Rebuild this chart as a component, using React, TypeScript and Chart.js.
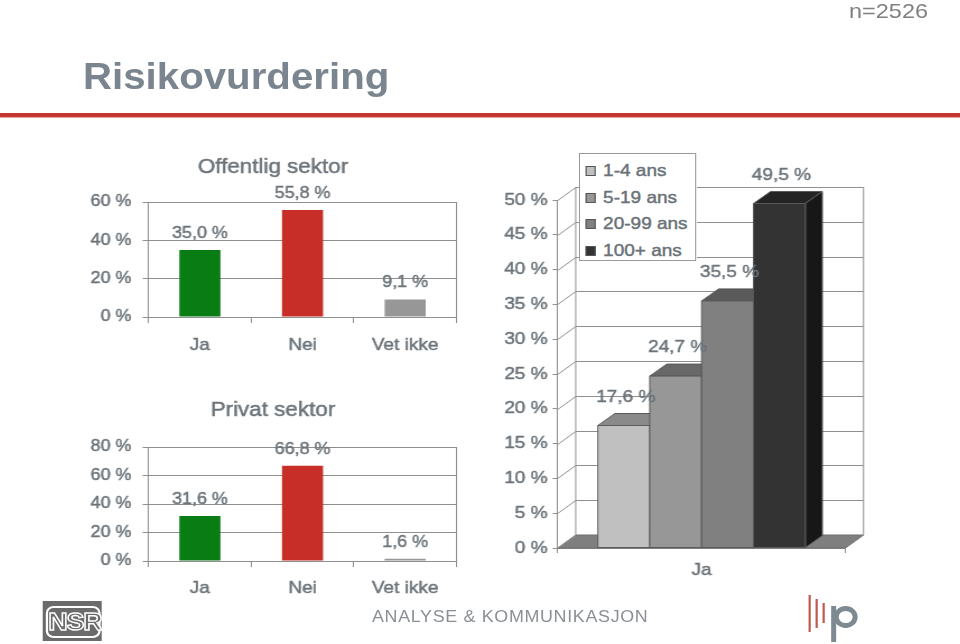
import React, { useEffect, useRef } from "react";
import { Chart, registerables } from "chart.js";

Chart.register(...registerables);

// ---------------- data ----------------
const pageTitle = "Risikovurdering";
const sampleSize = "n=2526";

const answerCategories = ["Ja", "Nei", "Vet ikke"];
const answerColors = ["#0a7c14", "#c72e27", "#979797"];

const offentligTitle = "Offentlig sektor";
const offentligValues = [35.0, 55.8, 9.1];
const offentligTicks = [0, 20, 40, 60];

const privatTitle = "Privat sektor";
const privatValues = [31.6, 66.8, 1.6];
const privatTicks = [0, 20, 40, 60, 80];

const sizeCategories = ["Ja"];
const sizeSeries = ["1-4 ans", "5-19 ans", "20-99 ans", "100+ ans"];
const sizeValues = [17.6, 24.7, 35.5, 49.5];
const sizeTicks = [0, 5, 10, 15, 20, 25, 30, 35, 40, 45, 50];
const sizeFront = ["#c0c0c0", "#979797", "#808080", "#333333"];
const sizeTop = ["#8a8a8a", "#686868", "#5a5a5a", "#242424"];
const sizeSide = ["#9c9c9c", "#6e6e6e", "#5e5e5e", "#171717"];

// ---------------- style helpers ----------------
const S = 960 / 859; // horizontal stretch of the slide
const X = (v: number) => v / S;
const FONT = "'Liberation Sans', Arial, Helvetica, sans-serif";
const TEXT = "#6b7379";
const GRID = "#8f8f8f";
const EDGE = "#5a5a5a";
const STROKE = 0.45;
const fmt = (v: number) => v.toFixed(1).replace(".", ",") + " %";

const drawText = (ctx: any, text: string, x: number, y: number, size: number) => {
  ctx.font = `${size}px ${FONT}`;
  ctx.textAlign = "center";
  ctx.textBaseline = "middle";
  ctx.fillStyle = TEXT;
  ctx.strokeStyle = TEXT;
  ctx.lineWidth = STROKE;
  ctx.lineJoin = "round";
  ctx.strokeText(text, x, y);
  ctx.fillText(text, x, y);
};

type SectorProps = {
  title: string;
  values: number[];
  ticks: number[];
  top: number;
  height: number;
  titlePadTop: number;
  titlePadBottom: number;
  xAxisHeight: number;
  labelPad: number;
};

function SectorChart(p: SectorProps) {
  const ref = useRef<HTMLCanvasElement>(null);
  useEffect(() => {
    const valueLabels = {
      id: "valueLabels",
      afterDatasetsDraw(chart: any) {
        const ctx = chart.ctx;
        const meta = chart.getDatasetMeta(0);
        ctx.save();
        meta.data.forEach((bar: any, i: number) => {
          drawText(ctx, fmt(p.values[i]), bar.x, bar.y - 16.5, 16);
        });
        ctx.restore();
      },
      afterDraw(chart: any) {
        const tb = chart.titleBlock;
        if (!tb) return;
        const ctx = chart.ctx;
        ctx.save();
        ctx.font = `20px ${FONT}`;
        ctx.textAlign = "center";
        ctx.textBaseline = "middle";
        ctx.strokeStyle = TEXT;
        ctx.lineWidth = STROKE;
        ctx.strokeText(p.title, (tb.left + tb.right) / 2, tb.top + p.titlePadTop + 12);
        ctx.restore();
      },
    };
    const chart = new Chart(ref.current as HTMLCanvasElement, {
      type: "bar",
      data: {
        labels: answerCategories,
        datasets: [
          {
            data: p.values,
            backgroundColor: answerColors,
            borderWidth: 0,
            categoryPercentage: 1,
            barPercentage: 0.4,
          },
        ],
      },
      options: {
        animation: false,
        responsive: true,
        maintainAspectRatio: false,
        layout: { padding: { left: 0, right: X(15), top: 0, bottom: 0 } },
        plugins: {
          legend: { display: false },
          tooltip: { enabled: false },
          title: {
            display: true,
            text: p.title,
            color: TEXT,
            font: { family: FONT, size: 20, weight: "normal", lineHeight: 1.2 },
            padding: { top: p.titlePadTop, bottom: p.titlePadBottom },
          },
        },
        scales: {
          x: {
            grid: {
              offset: true,
              color: (c: any) => (c.type === "tick" && c.index > 0 ? "rgba(0,0,0,0)" : GRID),
              tickColor: GRID,
              tickLength: 6,
              lineWidth: 1,
            },
            border: { display: true, color: GRID },
            ticks: {
              color: TEXT,
              font: { family: FONT, size: 17 },
              padding: p.labelPad,
              maxRotation: 0,
              textStrokeColor: TEXT,
              textStrokeWidth: STROKE,
            },
            afterFit: (s: any) => {
              s.height = p.xAxisHeight;
            },
          },
          y: {
            min: 0,
            max: p.ticks[p.ticks.length - 1],
            afterBuildTicks: (s: any) => {
              s.ticks = p.ticks.map((v) => ({ value: v }));
            },
            grid: { color: GRID, tickColor: GRID, tickLength: X(6) },
            border: { display: true, color: GRID },
            ticks: {
              color: TEXT,
              font: { family: FONT, size: 16 },
              padding: X(11),
              textStrokeColor: TEXT,
              textStrokeWidth: STROKE,
              callback: (v: any) => v + " %",
            },
            afterFit: (s: any) => {
              s.width = X(59);
            },
          },
        },
      } as any,
      plugins: [valueLabels],
    });
    return () => chart.destroy();
  }, []);
  return (
    <div style={{ position: "absolute", left: X(89), top: p.top, width: X(381), height: p.height }}>
      <canvas ref={ref} />
    </div>
  );
}

function SizeChart() {
  const ref = useRef<HTMLCanvasElement>(null);
  useEffect(() => {
    const WALL = { dx: X(18), dy: -13 };
    const BAR = { dx: X(17), dy: -12 };
    const poly = (ctx: any, pts: number[][], fill: string, stroke: string) => {
      ctx.beginPath();
      ctx.moveTo(pts[0][0], pts[0][1]);
      for (let k = 1; k < pts.length; k++) ctx.lineTo(pts[k][0], pts[k][1]);
      ctx.closePath();
      ctx.fillStyle = fill;
      ctx.fill();
      ctx.strokeStyle = stroke;
      ctx.lineWidth = 1;
      ctx.stroke();
    };
    const line = (ctx: any, x1: number, y1: number, x2: number, y2: number) => {
      ctx.beginPath();
      ctx.moveTo(x1, y1);
      ctx.lineTo(x2, y2);
      ctx.stroke();
    };
    const box3d = {
      id: "box3d",
      beforeDatasetsDraw(chart: any) {
        const { ctx, chartArea: a } = chart;
        const yScale = chart.scales.y;
        ctx.save();
        poly(
          ctx,
          [
            [a.left, a.bottom],
            [a.right, a.bottom],
            [a.right + WALL.dx, a.bottom + WALL.dy],
            [a.left + WALL.dx, a.bottom + WALL.dy],
          ],
          "#7f7f7f",
          "#6f6f6f"
        );
        ctx.strokeStyle = GRID;
        ctx.lineWidth = 1;
        sizeTicks.forEach((v) => {
          const py = Math.round(yScale.getPixelForValue(v)) + 0.5;
          line(ctx, a.left, py, a.left + WALL.dx, py + WALL.dy);
          if (v > 0) line(ctx, a.left + WALL.dx, py + WALL.dy, a.right + WALL.dx, py + WALL.dy);
        });
        const top = yScale.getPixelForValue(sizeTicks[sizeTicks.length - 1]);
        line(ctx, a.left + WALL.dx, a.bottom + WALL.dy, a.left + WALL.dx, top + WALL.dy);
        line(ctx, a.right + WALL.dx, a.bottom + WALL.dy, a.right + WALL.dx, top + WALL.dy);
        for (let i = 0; i < sizeSeries.length; i++) {
          const bar = chart.getDatasetMeta(i).data[0];
          const { x, y, base, width } = bar.getProps(["x", "y", "base", "width"], true);
          const x0 = x - width / 2;
          const x1 = x + width / 2;
          poly(
            ctx,
            [
              [x0, y],
              [x1, y],
              [x1 + BAR.dx, y + BAR.dy],
              [x0 + BAR.dx, y + BAR.dy],
            ],
            sizeTop[i],
            EDGE
          );
          poly(
            ctx,
            [
              [x1, y],
              [x1 + BAR.dx, y + BAR.dy],
              [x1 + BAR.dx, base + BAR.dy],
              [x1, base],
            ],
            sizeSide[i],
            EDGE
          );
          poly(
            ctx,
            [
              [x0, y],
              [x1, y],
              [x1, base],
              [x0, base],
            ],
            sizeFront[i],
            EDGE
          );
        }
        ctx.restore();
        return false;
      },
      afterDraw(chart: any) {
        const ctx = chart.ctx;
        ctx.save();
        for (let i = 0; i < sizeSeries.length; i++) {
          const bar = chart.getDatasetMeta(i).data[0];
          drawText(ctx, fmt(sizeValues[i]), bar.x + X(2), bar.y - 28.5, 17);
        }
        ctx.restore();
      },
    };
    const chart = new Chart(ref.current as HTMLCanvasElement, {
      type: "bar",
      data: {
        labels: sizeCategories,
        datasets: sizeSeries.map((name, i) => ({
          label: name,
          data: [sizeValues[i]],
          backgroundColor: sizeFront[i],
          categoryPercentage: 0.721,
          barPercentage: 1,
        })),
      },
      options: {
        animation: false,
        responsive: true,
        maintainAspectRatio: false,
        layout: { padding: { left: 0, right: X(45), top: 50, bottom: 0 } },
        plugins: { legend: { display: false }, tooltip: { enabled: false }, title: { display: false } },
        scales: {
          x: {
            grid: { offset: true, drawOnChartArea: false, color: GRID, tickLength: 5 },
            border: { display: true, color: GRID },
            ticks: {
              color: TEXT,
              font: { family: FONT, size: 17 },
              padding: 7,
              textStrokeColor: TEXT,
              textStrokeWidth: STROKE,
            },
            afterFit: (s: any) => {
              s.height = 42;
            },
          },
          y: {
            min: 0,
            max: sizeTicks[sizeTicks.length - 1],
            afterBuildTicks: (s: any) => {
              s.ticks = sizeTicks.map((v) => ({ value: v }));
            },
            grid: { drawOnChartArea: false, color: GRID, tickLength: X(5) },
            border: { display: true, color: GRID },
            ticks: {
              color: TEXT,
              font: { family: FONT, size: 17 },
              padding: X(5),
              textStrokeColor: TEXT,
              textStrokeWidth: STROKE,
              callback: (v: any) => v + " %",
            },
            afterFit: (s: any) => {
              s.width = X(68);
            },
          },
        },
      } as any,
      plugins: [box3d],
    });
    return () => chart.destroy();
  }, []);
  return (
    <div style={{ position: "absolute", left: X(490), top: 150, width: X(400), height: 440 }}>
      <canvas ref={ref} />
    </div>
  );
}

function Legend3D() {
  const centers = [18, 44.5, 71, 98];
  return (
    <div
      style={{
        position: "absolute",
        left: X(579),
        top: 153,
        width: X(117),
        height: 108,
        border: "1px solid #9a9a9a",
        background: "#fff",
        boxSizing: "border-box",
      }}
    >
      {sizeSeries.map((name, i) => (
        <React.Fragment key={name}>
          <div
            style={{
              position: "absolute",
              left: X(6),
              top: centers[i] - 6,
              width: X(10),
              height: 10,
              background: sizeFront[i],
              border: "1px solid #555",
              boxSizing: "border-box",
            }}
          />
          <div
            style={
              {
                position: "absolute",
                left: X(23),
                top: centers[i] - 11,
                fontSize: 17,
                lineHeight: "20px",
                color: TEXT,
                WebkitTextStroke: `${STROKE}px ${TEXT}`,
                whiteSpace: "nowrap",
              } as any
            }
          >
            {name}
          </div>
        </React.Fragment>
      ))}
    </div>
  );
}

export default function App() {
  return (
    <div
      style={{
        position: "fixed",
        left: 0,
        top: 0,
        width: 960,
        height: 644,
        overflow: "hidden",
        background: "#fff",
        fontFamily: FONT,
      }}
    >
      <div
        style={{
          position: "absolute",
          left: 0,
          top: 0,
          width: X(960),
          height: 644,
          transform: `scaleX(${S})`,
          transformOrigin: "0 0",
        }}
      >
        <div
          style={{
            position: "absolute",
            right: X(32),
            top: 0,
            fontSize: 21,
            lineHeight: "21px",
            color: "#808080",
          }}
        >
          {sampleSize}
        </div>
        <div
          style={{
            position: "absolute",
            left: X(83),
            top: 59,
            fontSize: 36,
            lineHeight: "36px",
            fontWeight: "bold",
            color: "#7a858f",
          }}
        >
          {pageTitle}
        </div>
        <div style={{ position: "absolute", left: 0, top: 113, width: X(960), height: 4, background: "#c4362f" }} />
        <div style={{ position: "absolute", left: 0, top: 117, width: X(960), height: 1, background: "#e4aaa5" }} />

        <SectorChart
          title={offentligTitle}
          values={offentligValues}
          ticks={offentligTicks}
          top={150}
          height={215}
          titlePadTop={5}
          titlePadBottom={23}
          xAxisHeight={48}
          labelPad={12}
        />
        <SectorChart
          title={privatTitle}
          values={privatValues}
          ticks={privatTicks}
          top={390}
          height={215}
          titlePadTop={8}
          titlePadBottom={25}
          xAxisHeight={44}
          labelPad={11}
        />
        <SizeChart />
        <Legend3D />

        <div
          style={{
            position: "absolute",
            left: X(42),
            top: 601,
            width: X(60),
            height: 40,
            background: "#6b6b6b",
          }}
        >
          <div
            style={
              {
                position: "absolute",
                left: X(4),
                top: 5,
                width: X(50),
                height: 28,
                border: "2px solid #fff",
                borderRadius: 7,
                color: "#6b6b6b",
                WebkitTextStroke: "1.4px #fff",
                fontWeight: "bold",
                fontSize: 24,
                lineHeight: "28px",
                textAlign: "center",
                letterSpacing: -1,
              } as any
            }
          >
            NSR
          </div>
        </div>
        <div
          style={{
            position: "absolute",
            left: X(372),
            top: 609,
            fontFamily: "'Liberation Sans Narrow', 'Liberation Sans', Arial, sans-serif",
            fontSize: 16,
            lineHeight: "16px",
            letterSpacing: 0.6,
            color: "#8a9096",
            whiteSpace: "nowrap",
          }}
        >
          ANALYSE &amp; KOMMUNIKASJON
        </div>
        <svg
          style={{ position: "absolute", left: X(805), top: 592 }}
          width={X(60)}
          height={52}
          viewBox="0 0 60 52"
          preserveAspectRatio="none"
        >
          <line x1={5} y1={3} x2={5} y2={40} stroke="#c0584f" strokeWidth={2.2} />
          <line x1={12} y1={7} x2={12} y2={36} stroke="#c0584f" strokeWidth={2.2} />
          <line x1={19} y1={11} x2={19} y2={31} stroke="#c0584f" strokeWidth={2.2} />
          <line x1={29} y1={14} x2={29} y2={50} stroke="#7d8a92" strokeWidth={5} />
          <ellipse cx={41} cy={25} rx={9.5} ry={8.5} fill="none" stroke="#7d8a92" strokeWidth={5} />
        </svg>
      </div>
    </div>
  );
}
